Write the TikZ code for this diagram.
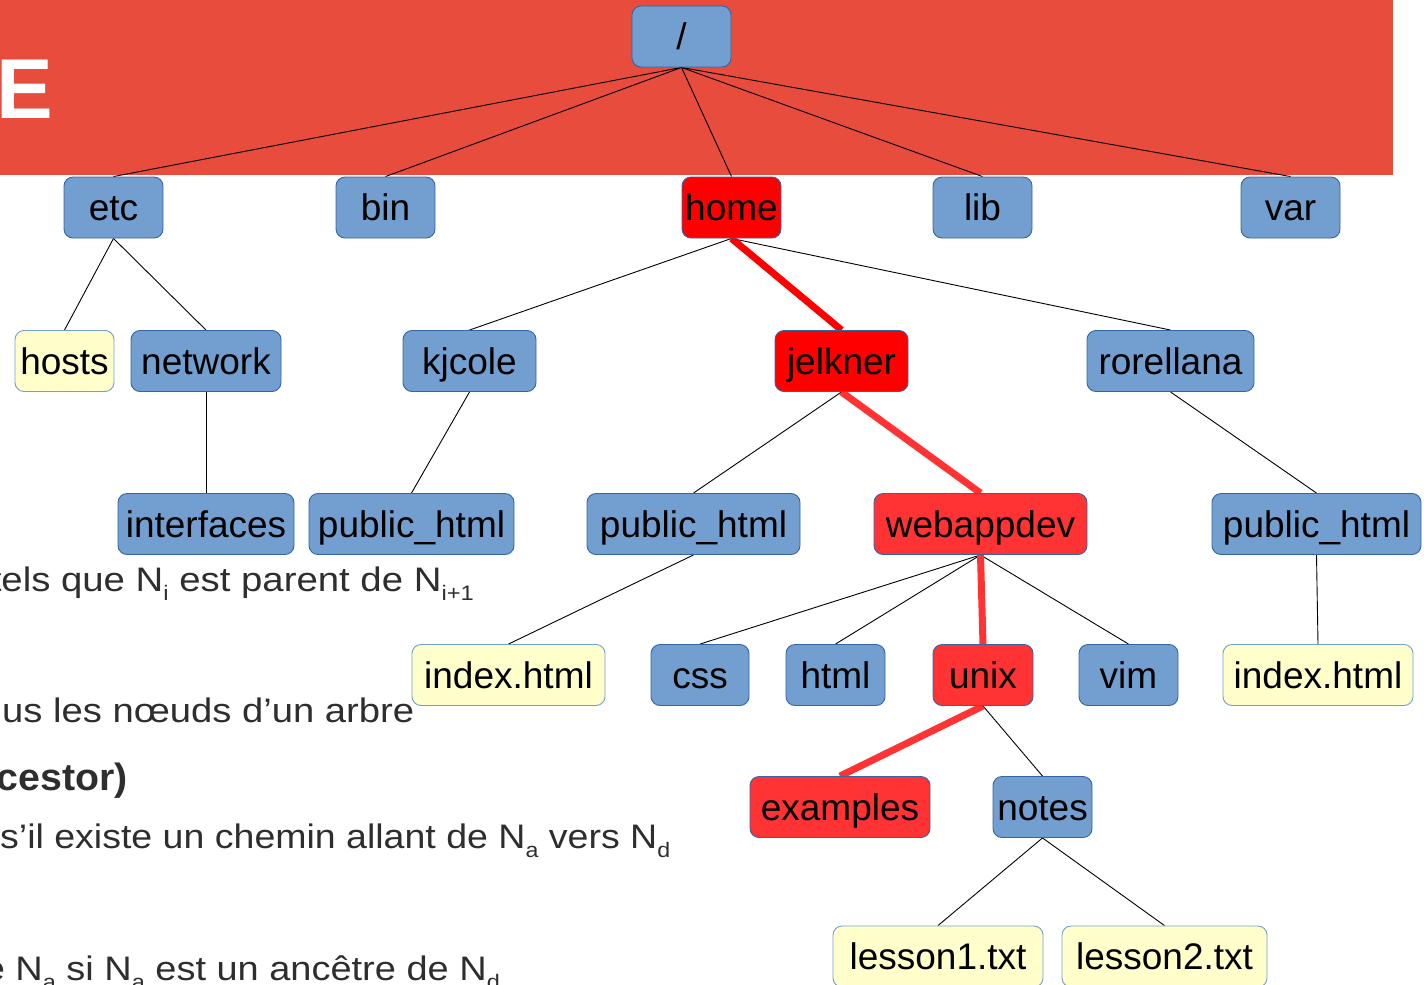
\documentclass[tikz,border=0pt]{standalone}
\usepackage{fontspec}
\usepackage{graphicx}
\setmainfont{Liberation Sans}

\definecolor{band}{HTML}{E74C3C}
\definecolor{dirblue}{HTML}{729FCF}
\definecolor{boxline}{HTML}{3465A4}
\definecolor{fileyellow}{HTML}{FFFFCC}
\definecolor{fileline}{HTML}{729FCF}
\definecolor{hotA}{HTML}{FF0000}
\definecolor{hotB}{HTML}{FF3333}
\definecolor{bodygray}{HTML}{2E2E2E}

% layers: band and text at the back, connectors above them, boxes on top
\pgfdeclarelayer{back}
\pgfdeclarelayer{edges}
\pgfsetlayers{back,edges,main}

% small lowered index inside the body text
\newcommand\lowidx[1]{\raisebox{-0.28em}{\fontsize{21}{21}\selectfont #1}}

\tikzset{
  box/.style={draw=boxline, line width=0.9pt, rounded corners=9pt,
    minimum height=61pt, inner xsep=0pt, inner ysep=0pt,
    text height=26pt, text depth=0pt,
    font=\fontsize{37}{40}\selectfont},
  dir/.style={box, fill=dirblue},
  file/.style={box, fill=fileyellow, draw=fileline},
  hotdir/.style={box, fill=hotA},
  hotsub/.style={box, fill=hotB},
  link/.style={draw=black, line width=0.9pt},
  redlink/.style={line width=7pt, line cap=butt},
  bodytext/.style={inner sep=0pt, text=bodygray, font=\fontsize{34}{40}\selectfont},
}

\begin{document}
\begin{tikzpicture}[x=1pt, y=-1pt]
  \useasboundingbox (0,0) rectangle (1424,985);
  \clip (0,0) rectangle (1424,985);

  \begin{pgfonlayer}{back}
  % title band
  \fill[band] (0,0) rectangle (1393,175);
  \node[inner sep=0pt, anchor=base west, text=white,
        font=\bfseries\fontsize{85}{90}\selectfont] (title) at (-4.2,118) {E};

  % body text behind the tree
  \node[bodytext, anchor=base east] (l1) at (474,591)
    {\resizebox{483pt}{\height}{tels que N\lowidx{i} est parent de N\lowidx{i+1}}};
  \node[bodytext, anchor=base west] (l2) at (2,722)
    {\resizebox{412pt}{\height}{us les nœuds d’un arbre}};
  \node[bodytext, anchor=base east, font=\bfseries\fontsize{38}{42}\selectfont] (l3) at (128,790)
    {\resizebox{131pt}{\height}{cestor)}};
  \node[bodytext, anchor=base west] (l4) at (0,848)
    {\resizebox{670pt}{\height}{s’il existe un chemin allant de N\lowidx{a} vers N\lowidx{d}}};
  \node[bodytext, anchor=base east] (l5) at (500,980)
    {\resizebox{516pt}{\height}{e N\lowidx{a} si N\lowidx{a} est un ancêtre de N\lowidx{d}}};
  \end{pgfonlayer}

  % directory tree
  \node[dir, minimum width=99pt] (root) at (681.5,36.5) {/};

  \node[dir, minimum width=99pt]    (etc)  at (113.5,207.5) {etc};
  \node[dir, minimum width=99pt]    (bin)  at (385.5,207.5) {bin};
  \node[hotdir, minimum width=99pt] (home) at (731.5,207.5) {home};
  \node[dir, minimum width=99pt]    (lib)  at (982.5,207.5) {lib};
  \node[dir, minimum width=99pt]    (var)  at (1290.5,207.5) {var};

  \node[file, minimum width=99pt]    (hosts)     at (64.5,361) {hosts};
  \node[dir, minimum width=150pt]    (network)   at (206,361) {network};
  \node[dir, minimum width=133pt]    (kjcole)    at (469.5,361) {kjcole};
  \node[hotdir, minimum width=133pt] (jelkner)   at (841.5,361) {jelkner};
  \node[dir, minimum width=167pt]    (rorellana) at (1170.5,361) {rorellana};

  \node[dir, minimum width=176pt]    (interfaces) at (206,524) {interfaces};
  \node[dir, minimum width=205pt]    (pubk)       at (411.5,524) {public\_html};
  \node[dir, minimum width=213pt]    (pubj)       at (693.5,524) {public\_html};
  \node[hotsub, minimum width=213pt] (webappdev)  at (980.5,524) {webappdev};
  \node[dir, minimum width=209pt]    (pubr)       at (1316.5,524) {public\_html};

  \node[file, minimum width=193pt]   (idxj) at (508.5,675) {index.html};
  \node[dir, minimum width=98pt]     (css)  at (700,675) {css};
  \node[dir, minimum width=99pt]     (html) at (835.5,675) {html};
  \node[hotsub, minimum width=100pt] (unix) at (983,675) {unix};
  \node[dir, minimum width=99pt]     (vim)  at (1128.5,675) {vim};
  \node[file, minimum width=190pt]   (idxr) at (1318,675) {index.html};

  \node[hotsub, minimum width=180pt] (examples) at (840,807) {examples};
  \node[dir, minimum width=99pt]     (notes)    at (1042.5,807) {notes};

  \node[file, minimum width=210pt] (lesson1) at (938,956.5) {lesson1.txt};
  \node[file, minimum width=205pt] (lesson2) at (1164.5,956.5) {lesson2.txt};

  % connectors
  \begin{pgfonlayer}{edges}
  \foreach \c in {etc,bin,home,lib,var}
    \draw[link] (root.south) -- (\c.north);
  \draw[link] (etc.south) -- (hosts.north);
  \draw[link] (etc.south) -- (network.north);
  \draw[link] (network.south) -- (interfaces.north);
  \draw[link] (home.south) -- (kjcole.north);
  \draw[link] (home.south) -- (rorellana.north);
  \draw[link] (kjcole.south) -- (pubk.north);
  \draw[link] (jelkner.south) -- (pubj.north);
  \draw[link] (rorellana.south) -- (pubr.north);
  \draw[link] (pubj.south) -- (idxj.north);
  \draw[link] (webappdev.south) -- (css.north);
  \draw[link] (webappdev.south) -- (html.north);
  \draw[link] (webappdev.south) -- (vim.north);
  \draw[link] (pubr.south) -- (idxr.north);
  \draw[link] (unix.south) -- (notes.north);
  \draw[link] (notes.south) -- (lesson1.north);
  \draw[link] (notes.south) -- (lesson2.north);
  % highlighted path
  \draw[redlink, draw=hotA] (home.south) -- (jelkner.north);
  \draw[redlink, draw=hotB] (jelkner.south) -- (webappdev.north);
  \draw[redlink, draw=hotB] (webappdev.south) -- (unix.north);
  \draw[redlink, draw=hotB] (unix.south) -- (examples.north);
  \end{pgfonlayer}
\end{tikzpicture}
\end{document}
